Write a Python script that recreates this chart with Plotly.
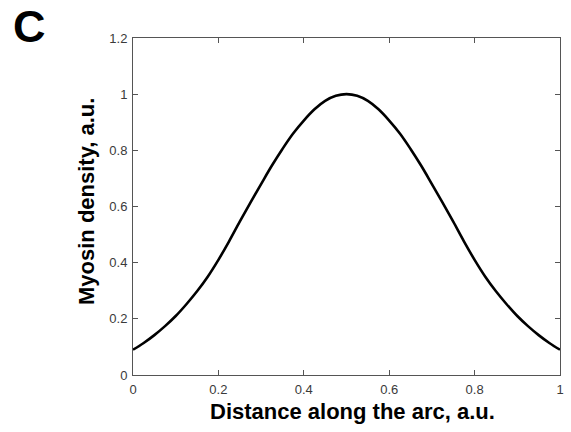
import plotly.graph_objects as go

distance = [0.0, 0.025, 0.05, 0.075, 0.1, 0.125, 0.15, 0.175, 0.2, 0.225, 0.25,
            0.275, 0.3, 0.325, 0.35, 0.375, 0.4, 0.425, 0.45, 0.475, 0.5,
            0.525, 0.55, 0.575, 0.6, 0.625, 0.65, 0.675, 0.7, 0.725, 0.75,
            0.775, 0.8, 0.825, 0.85, 0.875, 0.9, 0.925, 0.95, 0.975, 1.0]
density = [0.090, 0.114, 0.142, 0.174, 0.210, 0.252, 0.298, 0.350, 0.410, 0.476, 0.546,
           0.614, 0.680, 0.745, 0.805, 0.860, 0.906, 0.946, 0.976, 0.994, 1.000,
           0.994, 0.976, 0.946, 0.906, 0.860, 0.805, 0.745, 0.680, 0.614, 0.546,
           0.476, 0.410, 0.350, 0.298, 0.252, 0.210, 0.174, 0.142, 0.114, 0.090]

x_ticks = [0, 0.2, 0.4, 0.6, 0.8, 1]
y_ticks = [0, 0.2, 0.4, 0.6, 0.8, 1, 1.2]

W, H = 571, 432
L, R, T, B = 133, 11, 38, 57

fig = go.Figure()
fig.add_trace(go.Scatter(x=distance, y=density, mode="lines",
                         line=dict(color="black", width=2.6, shape="spline"),
                         showlegend=False, hoverinfo="skip"))

axis_common = dict(showline=True, linecolor="#555555", linewidth=1, mirror="ticks",
                   ticks="inside", ticklen=5, tickcolor="#555555", tickwidth=1,
                   showgrid=False, zeroline=False, automargin=False,
                   tickfont=dict(family="Arial, Liberation Sans, sans-serif", size=13, color="#3a3a3a"))

fig.update_xaxes(range=[0, 1], tickvals=x_ticks, ticklabelstandoff=2, **axis_common)
fig.update_yaxes(range=[0, 1.2], tickvals=y_ticks, ticklabelstandoff=2, **axis_common)

plot_w = W - L - R
plot_h = H - T - B

def px_x(px):
    return (px - L) / plot_w

def px_y(py):
    return ((H - B) - py) / plot_h

fig.update_layout(
    width=W, height=H,
    margin=dict(l=L, r=R, t=T, b=B, autoexpand=False),
    paper_bgcolor="white", plot_bgcolor="white",
    font=dict(family="Arial, Liberation Sans, sans-serif"),
    annotations=[
        dict(text="<b>C</b>", x=px_x(29), y=px_y(26), xref="paper", yref="paper",
             xanchor="center", yanchor="middle", showarrow=False,
             font=dict(size=45, color="black")),
        dict(text="<b>Distance along the arc, a.u.</b>", x=px_x(352.5), y=px_y(412),
             xref="paper", yref="paper", showarrow=False, xanchor="center", yanchor="middle",
             font=dict(size=22, color="black")),
        dict(text="<b>Myosin density, a.u.</b>", x=px_x(86), y=px_y(202),
             xref="paper", yref="paper", showarrow=False, textangle=-90,
             xanchor="center", yanchor="middle",
             font=dict(size=22, color="black")),
    ],
)

fig.write_html("out.html", config={"displayModeBar": False},
               post_script="document.body.style.margin='0';")
